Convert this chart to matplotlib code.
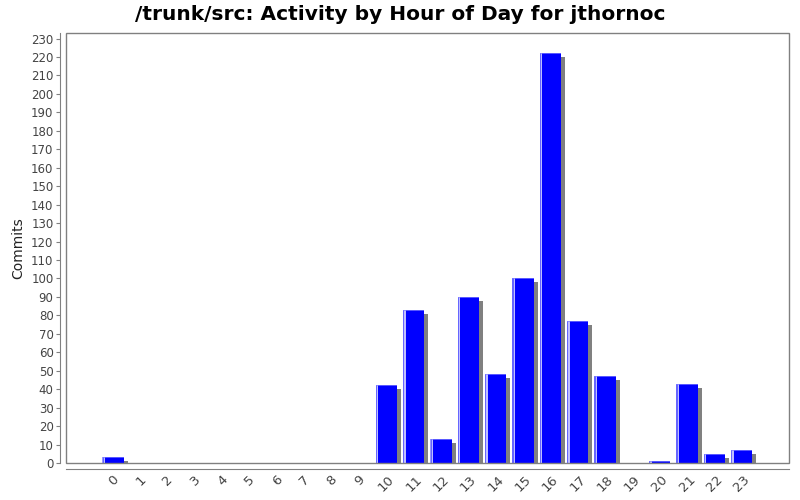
import matplotlib
matplotlib.use("Agg")
import matplotlib.pyplot as plt
from matplotlib.patches import Rectangle
import numpy as np

hours = [str(h) for h in range(24)]
commits = [3, 0, 0, 0, 0, 0, 0, 0, 0, 0, 42, 83, 13, 90, 48, 100, 222, 77, 47, 0, 1, 43, 5, 7]
yticks = list(range(0, 231, 10))

title = "/trunk/src: Activity by Hour of Day for jthornoc"

fig = plt.figure(figsize=(8, 5), dpi=100)
ax = fig.add_axes([66/800, 37/500, 723/800, 430/500])
ax.set_xlim(-1.73, 24.73)
ax.set_ylim(0, 233)

x = np.arange(len(hours))
vals = np.array(commits, dtype=float)
width = 0.78
# shadow offsets in pixels -> data units
px_x = (24.73 + 1.73) / 723
px_y = 233 / 430
sdx = 4 * px_x
sdy = 4 * px_y

sh = np.clip(vals - sdy, 0, None)
ax.bar(x + sdx, sh, width=width, color="#808080", zorder=1, linewidth=0)
ax.bar(x, vals, width=width, color="#0000ff", zorder=2, linewidth=0)
# highlight stripes (left edge and top edge)
hl = np.where(vals > 0, vals, 0)
ax.bar(x - width/2 + 0.07, hl, width=0.045, color="#ffffff", alpha=0.75, zorder=3, linewidth=0)
ax.bar(x - width/2 + 0.02, hl, width=0.05, color="#8080ff", alpha=0.8, zorder=3, linewidth=0)
top_h = np.where(vals > 0, 1.0 * px_y, 0)
ax.bar(x, top_h, bottom=hl - top_h, width=width, color="#8080ff", alpha=0.7, zorder=3, linewidth=0)

# plot border
for s in ax.spines.values():
    s.set_visible(False)
ax.add_patch(Rectangle((0, 0), 1, 1, transform=ax.transAxes, fill=False,
                       edgecolor="#808080", linewidth=1, zorder=5, clip_on=False))
ax.spines["left"].set_visible(True)
ax.spines["left"].set_position(("outward", 4))
ax.spines["left"].set_color("#808080")
ax.spines["bottom"].set_visible(True)
ax.spines["bottom"].set_position(("outward", 4))
ax.spines["bottom"].set_color("#808080")

ax.set_yticks(yticks)
ax.set_yticklabels([str(v) for v in yticks])
ax.tick_params(axis="y", length=3, width=0.8, color="#808080", labelsize=8.5,
               labelcolor="#444444", pad=2)
ax.set_xticks(x)
ax.set_xticklabels(hours, rotation=45, ha="center")
ax.tick_params(axis="x", length=0, labelsize=9.5, labelcolor="#444444", pad=3)

ax.set_ylabel("Commits", fontsize=10, color="#222222", labelpad=4)
fig.text(0.5, 0.972, title, ha="center", va="center", fontsize=14.5, fontweight="bold")

fig.savefig("out.png", dpi=100, facecolor="white")
